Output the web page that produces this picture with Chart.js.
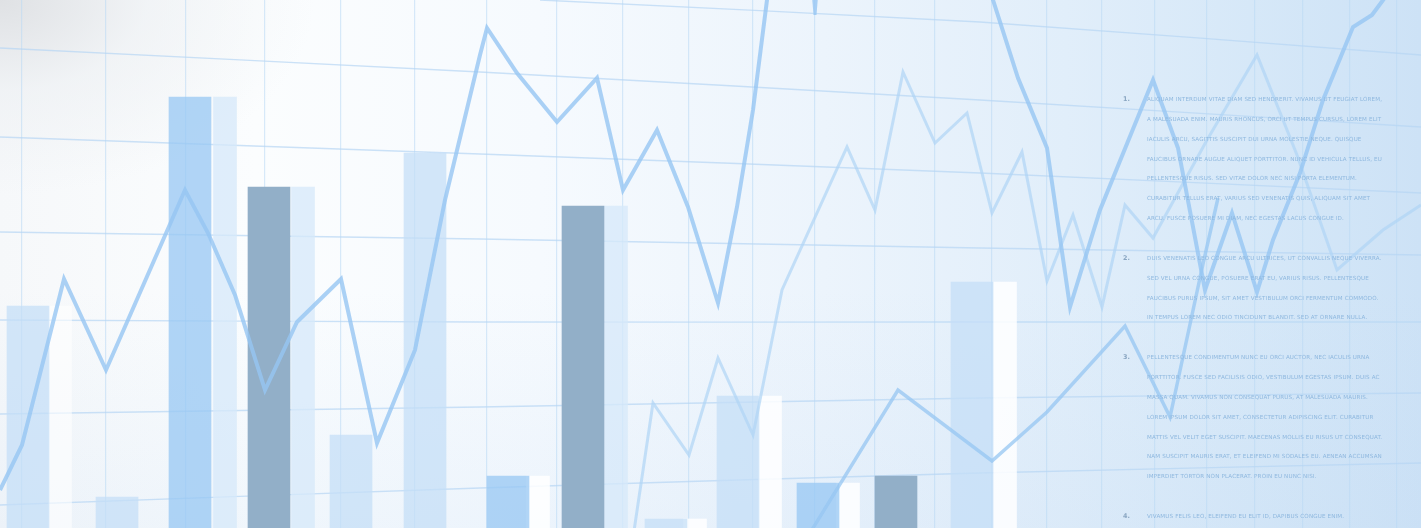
<!DOCTYPE html>
<html>
<head>
<meta charset="utf-8">
<script src="https://cdn.jsdelivr.net/npm/chart.js@4.4.1/dist/chart.umd.min.js"></script>
<style>
  html, body { margin:0; padding:0; width:1421px; height:528px; overflow:hidden; }
  body {
    position:relative;
    background:
      radial-gradient(ellipse 420px 260px at 0% 0%, rgba(222,224,227,0.95) 0%, rgba(236,239,242,0.6) 35%, rgba(255,255,255,0) 75%),
      linear-gradient(180deg, rgba(255,255,255,0) 55%, rgba(190,215,242,0.18) 100%),
      linear-gradient(90deg, #f6f8fa 0%, #fbfdfe 18%, #f6fafe 38%, #ecf4fc 58%, #e1eefa 75%, #d6e8f8 88%, #cde2f6 100%);
    font-family: "DejaVu Sans", sans-serif;
  }
  #wrap { position:absolute; left:0; top:0; width:1421px; height:528px; }
  #notes { position:absolute; left:1147px; top:90px; color:#8fb8df; font-size:5.6px; letter-spacing:0.15px; }
  #notes .ln { height:19.86px; line-height:19.86px; white-space:nowrap; position:relative; }
  #notes .num { position:absolute; left:-24px; top:0; color:#8aa6c2; font-size:6.4px; font-weight:bold; }
</style>
</head>
<body>
<div id="wrap"><canvas id="c" width="1421" height="528"></canvas></div>
<div id="notes"></div>
<script>
// ---------- data ----------
const columnTicks = [22,106,186,265,341,415,487,557,623,689,753,815,875,935,992,1047,1102,1155,1207,1255,1303,1350,1397];
const rowStops = [0,480,980,1421];
const rows = [
  [null,null,506,473],
  [480,456,428,401],
  [391,374,355,335],
  [296,289,280,273],
  [208,206,206,206],
  [114,121,130,135],
  [23,40,55,65]
];
const barX      = [28,117,190,269,351,425,508,583,666,738,818,896,972];
const barValues = [222,31,431,341,93,375,52,322,9,132,45,52,246];
const shadeX      = [60,225,303,538,616,695,770,848,1005];
const shadeValues = [222,431,341,52,322,9,132,45,246];
const trendA = [[0,38],[22,83],[64,249],[106,158],[185,338],[208,295],[235,233],[265,138],[297,206],[341,249],[377,85],[415,178],[445,328],[480,473],[487,500],[517,455],[557,406],[597,450],[623,338],[657,398],[688,321],[718,225],[737,321],[753,418],[767,528],[778,610]];
const trendA2 = [[808,600],[815,513],[822,600]];
const trendB = [[975,590],[993,528],[1018,450],[1047,380],[1070,221],[1100,318],[1153,448],[1178,380],[1205,238],[1232,315],[1257,236],[1273,288],[1300,355],[1323,428],[1353,501],[1372,513],[1392,540]];
const trendC = [[630,-30],[653,125],[689,73],[718,170],[753,93],[782,238],[847,381],[875,318],[903,456],[935,385],[967,415],[992,315],[1022,376],[1047,247],[1073,313],[1102,221],[1125,323],[1153,290],[1207,388],[1257,473],[1297,373],[1337,258],[1383,298],[1421,323]];
const trendE = [[805,-15],[813,0],[898,138],[992,67],[1047,116],[1125,202],[1170,111],[1203,264],[1218,330]];
const notes = [
  ["1.", ["ALIQUAM INTERDUM VITAE DIAM SED HENDRERIT. VIVAMUS UT FEUGIAT LOREM,",
          "A MALESUADA ENIM. MAURIS RHONCUS, ORCI UT TEMPUS CURSUS, LOREM ELIT",
          "IACULIS ARCU, SAGITTIS SUSCIPIT DUI URNA MOLESTIE NEQUE. QUISQUE",
          "FAUCIBUS ORNARE AUGUE ALIQUET PORTTITOR. NUNC ID VEHICULA TELLUS, EU",
          "PELLENTESQUE RISUS. SED VITAE DOLOR NEC NISI PORTA ELEMENTUM.",
          "CURABITUR TELLUS ERAT, VARIUS SED VENENATIS QUIS, ALIQUAM SIT AMET",
          "ARCU. FUSCE POSUERE MI DIAM, NEC EGESTAS LACUS CONGUE ID."]],
  ["2.", ["DUIS VENENATIS LEO CONGUE ARCU ULTRICES, UT CONVALLIS NEQUE VIVERRA.",
          "SED VEL URNA CONGUE, POSUERE ERAT EU, VARIUS RISUS. PELLENTESQUE",
          "FAUCIBUS PURUS IPSUM, SIT AMET VESTIBULUM ORCI FERMENTUM COMMODO.",
          "IN TEMPUS LOREM NEC ODIO TINCIDUNT BLANDIT. SED AT ORNARE NULLA."]],
  ["3.", ["PELLENTESQUE CONDIMENTUM NUNC EU ORCI AUCTOR, NEC IACULIS URNA",
          "PORTTITOR. FUSCE SED FACILISIS ODIO, VESTIBULUM EGESTAS IPSUM. DUIS AC",
          "MASSA QUAM. VIVAMUS NON CONSEQUAT PURUS, AT MALESUADA MAURIS.",
          "LOREM IPSUM DOLOR SIT AMET, CONSECTETUR ADIPISCING ELIT. CURABITUR",
          "MATTIS VEL VELIT EGET SUSCIPIT. MAECENAS MOLLIS EU RISUS UT CONSEQUAT.",
          "NAM SUSCIPIT MAURIS ERAT, ET ELEIFEND MI SODALES EU. AENEAN ACCUMSAN",
          "IMPERDIET TORTOR NON PLACERAT. PROIN EU NUNC NISI."]],
  ["4.", ["VIVAMUS FELIS LEO, ELEIFEND EU ELIT ID, DAPIBUS CONGUE ENIM."]]
];

// ---------- styles ----------
const LIGHT = 'rgba(196,222,246,0.72)', BLUE = 'rgba(150,199,243,0.74)', SLATE = 'rgb(146,175,200)';
const barColors = [LIGHT,LIGHT,BLUE,SLATE,LIGHT,LIGHT,BLUE,SLATE,LIGHT,LIGHT,BLUE,SLATE,LIGHT];
const SOFT = 'rgba(214,232,249,0.75)', WHITE = 'rgba(255,255,255,0.85)';
const shadeColors = ['rgba(255,255,255,0.6)',SOFT,SOFT,WHITE,SOFT,WHITE,WHITE,WHITE,WHITE];

// ---------- notes (text) ----------
const notesEl = document.getElementById('notes');
notes.forEach(([num, lines], i) => {
  lines.forEach((t, j) => {
    const d = document.createElement('div');
    d.className = 'ln';
    if (j === 0) { const n = document.createElement('span'); n.className = 'num'; n.textContent = num; d.appendChild(n); }
    d.appendChild(document.createTextNode(t));
    notesEl.appendChild(d);
  });
  if (i < notes.length - 1) { const b = document.createElement('div'); b.className = 'ln'; notesEl.appendChild(b); }
});

// ---------- chart ----------
const pts = arr => arr.map(([x, y]) => ({x, y}));
const lineDs = (arr, color, w, order) => ({
  type:'line', data: pts(arr), borderColor: color, borderWidth: w, pointRadius: 0,
  tension: 0, fill: false, borderJoinStyle: 'miter', order
});
const datasets = [];
rows.forEach(r => {
  const d = [];
  r.forEach((v, i) => { if (v !== null) d.push({x: rowStops[i], y: v}); });
  if (r[0] === null) d.unshift({x: 540, y: 528});
  datasets.push({type:'line', data:d, borderColor:'rgba(182,214,243,0.7)', borderWidth:1.4, pointRadius:0, tension:0.2, fill:false, order:10});
});
datasets.push({type:'bar', data: barX.map((x,i)=>({x, y: barValues[i]})), backgroundColor: barColors, barThickness: 42, grouped:false, order: 8});
datasets.push({type:'bar', data: shadeX.map((x,i)=>({x, y: shadeValues[i]})), backgroundColor: shadeColors, barThickness: 23, grouped:false, order: 9});
datasets.push(lineDs(trendC, 'rgba(175,212,245,0.7)', 3, 3));
datasets.push(lineDs(trendE, 'rgba(150,198,242,0.75)', 3.5, 2));
datasets.push(lineDs(trendA, 'rgba(150,198,242,0.8)', 4, 1));
datasets.push(lineDs(trendA2, 'rgba(150,198,242,0.8)', 3, 1));
datasets.push(lineDs(trendB, 'rgba(150,198,242,0.8)', 4, 1));

new Chart(document.getElementById('c'), {
  type: 'bar',
  data: { datasets },
  options: {
    responsive: false, animation: false, devicePixelRatio: 1,
    layout: { padding: 0 },
    plugins: { legend: { display: false }, tooltip: { enabled: false } },
    scales: {
      x: {
        type: 'linear', min: 0, max: 1421, display: true, offset: false,
        ticks: { display: false },
        grid: { color: 'rgba(186,216,244,0.55)', lineWidth: 1.2, drawTicks: false, offset: false },
        border: { display: false },
        afterBuildTicks: axis => { axis.ticks = columnTicks.map(v => ({ value: v })); }
      },
      y: { min: 0, max: 528, display: false }
    }
  }
});
</script>
</body>
</html>
